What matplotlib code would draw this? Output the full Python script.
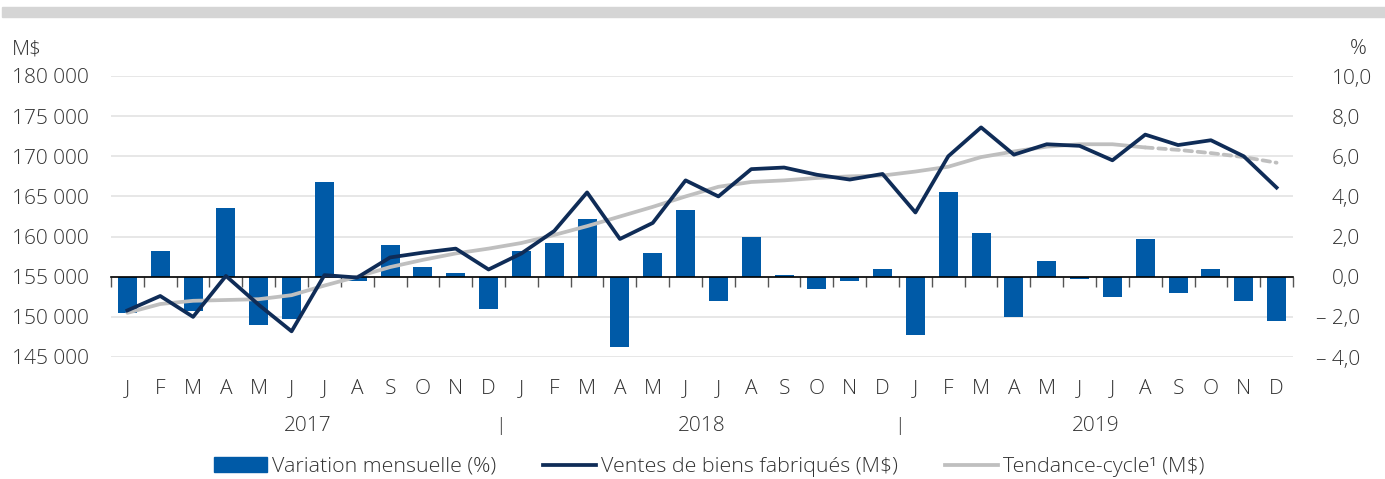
import matplotlib
matplotlib.use('Agg')
import matplotlib.pyplot as plt
from matplotlib.patches import Rectangle, Patch
from matplotlib.lines import Line2D
from matplotlib.transforms import ScaledTranslation, blended_transform_factory

plt.rcParams['font.family'] = ['Open Sans', 'DejaVu Sans']
plt.rcParams['font.weight'] = 'light'

# données (jan. 2017 - déc. 2019)
months = ['J', 'F', 'M', 'A', 'M', 'J', 'J', 'A', 'S', 'O', 'N', 'D'] * 3
years = ['2017', '2018', '2019']

variation = [-1.8, 1.3, -1.7, 3.4, -2.4, -2.1, 4.7, -0.2, 1.6, 0.5, 0.2, -1.6,
             1.3, 1.7, 2.9, -3.5, 1.2, 3.3, -1.2, 2.0, 0.1, -0.6, -0.2, 0.4,
             -2.9, 4.2, 2.2, -2.0, 0.8, -0.1, -1.0, 1.9, -0.8, 0.4, -1.2, -2.2]

ventes = [150800, 152600, 150000, 155100, 151500, 148200, 155200, 154900, 157400, 158000, 158500, 155900,
          157900, 160700, 165500, 159700, 161700, 167000, 165000, 168400, 168600, 167700, 167100, 167800,
          163000, 170000, 173600, 170200, 171500, 171300, 169500, 172700, 171400, 172000, 170000, 166100]

tendance = [150500, 151600, 152000, 152100, 152200, 152700, 153900, 155000, 156200, 157100, 157900, 158500,
            159200, 160200, 161300, 162500, 163700, 165000, 166200, 166800, 167000, 167300, 167500, 167600,
            168100, 168700, 169900, 170600, 171200, 171500, 171500, 171100, 170800, 170400, 169900, 169200]

c_bar = '#005AA7'
c_ventes = '#0F2C57'
c_tend = '#BFBFBF'
c_text = '#333333'
fs = 15
lw = 2.7

x = list(range(len(months)))

fig = plt.figure(figsize=(13.85, 4.79), dpi=100)
ax = fig.add_axes([111 / 1385, 1 - 357 / 479, 1182 / 1385, 281 / 479])
ax2 = ax.twinx()

# barres : variation mensuelle (axe de droite)
ax2.bar(x, variation, width=0.58, color=c_bar, zorder=2)
ax2.set_ylim(-4, 10)
ax2.set_yticks(range(-4, 11, 2))
rlabels = []
for v in range(-4, 11, 2):
    s = f"{abs(v):.1f}".replace('.', ',')
    rlabels.append('– ' + s if v < 0 else s)
ax2.set_yticklabels(rlabels)
ax2.tick_params(axis='y', length=0, pad=28, labelsize=fs, labelcolor=c_text)
ax2.grid(axis='y', color='#E3E3E3', lw=1.2)
ax2.set_axisbelow(True)
for sp in ax2.spines.values():
    sp.set_visible(False)
for tick in ax2.yaxis.get_major_ticks()[:2]:
    tick.label2.set_transform(tick.label2.get_transform() +
                              ScaledTranslation(-16 / 100, 0, fig.dpi_scale_trans))

# lignes (axe de gauche)
ax.set_zorder(ax2.get_zorder() + 1)
ax.patch.set_visible(False)
ax.plot(x, ventes, color=c_ventes, lw=lw, zorder=3)
ax.plot(x[:32], tendance[:32], color=c_tend, lw=lw, zorder=2, solid_capstyle='round')
ax.plot(x[31:], tendance[31:], color=c_tend, lw=lw, zorder=2, linestyle=(0, (2.0, 1.5)),
        dash_capstyle='round')
ax.set_ylim(145000, 180000)
ax.set_xlim(-0.5, len(months) - 0.5)
ax.set_yticks(range(145000, 180001, 5000))
ax.set_yticklabels([f"{v:,}".replace(',', ' ') for v in range(145000, 180001, 5000)])
ax.tick_params(axis='y', length=0, pad=16, labelsize=fs, labelcolor=c_text)

ax.set_xticks(x)
ax.set_xticklabels(months)
ax.set_xticks([i - 0.5 for i in range(len(months) + 1)], minor=True)
ax.tick_params(axis='x', which='major', length=0, pad=16, labelsize=fs, labelcolor=c_text)
ax.tick_params(axis='x', which='minor', bottom=False, top=True, direction='in',
               length=7, width=1, color='#555555')
for name in ['left', 'right', 'bottom']:
    ax.spines[name].set_visible(False)
ax.spines['top'].set_position(('data', 155000))
ax.spines['top'].set_color('black')
ax.spines['top'].set_linewidth(1.2)

trans = blended_transform_factory(ax.transData, ax.transAxes)
for i, yr in enumerate(years):
    ax.text(5.5 + 12 * i, -0.245, yr, transform=trans, ha='center', va='center',
            fontsize=fs, color=c_text)
for b in [11.35, 23.5]:
    ax.text(b, -0.245, '|', transform=trans, ha='center', va='center',
            fontsize=14, color=c_text)

fig.text(12 / 1385, 1 - 49 / 479, 'M$', ha='left', va='center', fontsize=fs, color=c_text)
fig.text(1367 / 1385, 1 - 49 / 479, '%', ha='right', va='center', fontsize=fs, color=c_text)

fig.patches.append(Rectangle((2 / 1385, 1 - 17 / 479), 1, 10 / 479, transform=fig.transFigure,
                             color='#D5D5D5', zorder=0))

handles = [Patch(color=c_bar), Line2D([], [], color=c_ventes, lw=lw),
           Line2D([], [], color=c_tend, lw=lw)]
labels = ['Variation mensuelle (%)', 'Ventes de biens fabriqués (M$)', 'Tendance-cycle¹ (M$)']
leg = fig.legend(handles, labels, loc='center', bbox_to_anchor=(709 / 1385, 1 - 467 / 479),
                 ncol=3, frameon=False, fontsize=15.4, handlelength=2.5, handleheight=0.7,
                 handletextpad=0.2, columnspacing=2.2, borderpad=0)
for t in leg.get_texts():
    t.set_color(c_text)

fig.savefig('out.png', dpi=100)
